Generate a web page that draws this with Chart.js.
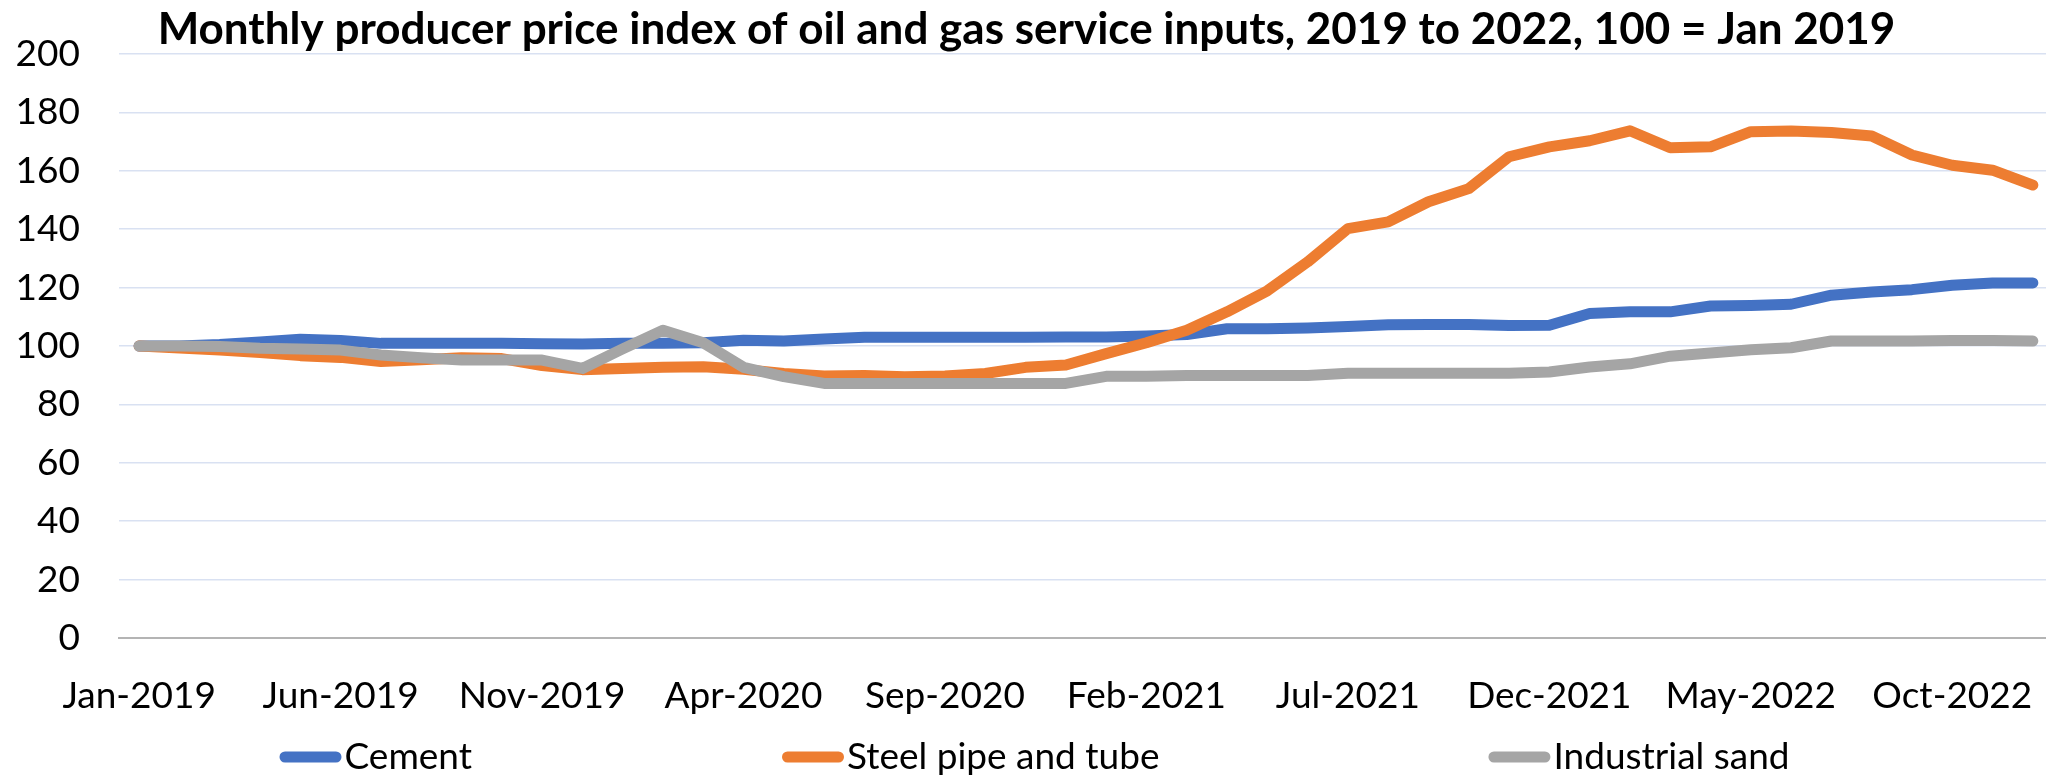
<!DOCTYPE html>
<html>
<head>
<meta charset="utf-8">
<title>Monthly producer price index of oil and gas service inputs</title>
<script src="https://cdn.jsdelivr.net/npm/chart.js@4/dist/chart.umd.min.js"></script>
<style>
  html, body { margin: 0; padding: 0; background: #ffffff; overflow: hidden; }
  #wrap { position: relative; width: 2060px; height: 776px; }
</style>
</head>
<body>
<div id="wrap"><canvas id="ppiChart"></canvas></div>
<script>
/**
 * Monthly producer price index of oil and gas service inputs, 2019 to 2022.
 * Values (100 = Jan 2019).
 */
const months = [
  'Jan-2019', 'Feb-2019', 'Mar-2019', 'Apr-2019', 'May-2019', 'Jun-2019',
  'Jul-2019', 'Aug-2019', 'Sep-2019', 'Oct-2019', 'Nov-2019', 'Dec-2019',
  'Jan-2020', 'Feb-2020', 'Mar-2020', 'Apr-2020', 'May-2020', 'Jun-2020',
  'Jul-2020', 'Aug-2020', 'Sep-2020', 'Oct-2020', 'Nov-2020', 'Dec-2020',
  'Jan-2021', 'Feb-2021', 'Mar-2021', 'Apr-2021', 'May-2021', 'Jun-2021',
  'Jul-2021', 'Aug-2021', 'Sep-2021', 'Oct-2021', 'Nov-2021', 'Dec-2021',
  'Jan-2022', 'Feb-2022', 'Mar-2022', 'Apr-2022', 'May-2022', 'Jun-2022',
  'Jul-2022', 'Aug-2022', 'Sep-2022', 'Oct-2022', 'Nov-2022', 'Dec-2022'
]

const cement = [
  100, 100, 100.5, 101.4, 102.3, 101.9, 100.9, 100.9, 100.9, 100.9, 100.8, 100.7,
  100.9, 100.9, 101.1, 102, 101.7, 102.4, 103, 103, 103, 103, 103, 103.1,
  103.1, 103.4, 103.9, 105.9, 105.9, 106.2, 106.7, 107.3, 107.4, 107.4, 107, 107.1,
  111.1, 111.7, 111.7, 113.7, 113.9, 114.3, 117.4, 118.5, 119.3, 120.8, 121.6, 121.6
]

const steelPipe = [
  100, 99.3, 98.6, 97.8, 96.7, 96.1, 94.7, 95.3, 96, 95.7, 93.3, 91.9,
  92.3, 92.7, 92.9, 92, 90.6, 89.7, 89.9, 89.5, 89.7, 90.6, 92.7, 93.5,
  97.4, 101.1, 105.4, 111.7, 118.9, 128.8, 140.2, 142.5, 149.4, 153.9, 164.8, 168.2,
  170.3, 173.7, 167.9, 168.2, 173.4, 173.6, 173.1, 171.9, 165.4, 161.9, 160.2, 155.1
]

const industrialSand = [
  100, 100, 99.8, 99.2, 99, 98.6, 96.9, 96, 95.2, 95.2, 95.2, 92.3,
  99, 105.4, 101.1, 92.7, 89.5, 87.2, 87.2, 87.2, 87.2, 87.2, 87.2, 87.2,
  89.6, 89.6, 89.9, 89.9, 89.9, 89.9, 90.7, 90.7, 90.7, 90.7, 90.7, 91.1,
  92.8, 93.9, 96.5, 97.6, 98.7, 99.4, 101.7, 101.7, 101.7, 101.9, 101.9, 101.7
]

const yTicks = [0, 20, 40, 60, 80, 100, 120, 140, 160, 180, 200]

const FONT = 'Lato, "Liberation Sans", sans-serif'

/**
 * Builds one line dataset in the Excel style of the reference.
 *
 * @param {string} label - Series name shown in the legend.
 * @param {Array<number>} data - Monthly index values.
 * @param {string} color - Line colour.
 * @param {number} order - Drawing order (lower is drawn on top).
 * @returns {object} - Chart.js dataset.
 */
const makeSeries = (label, data, color, order) => ({
  label,
  data,
  borderColor: color,
  backgroundColor: color,
  borderWidth: 11,
  borderCapStyle: 'round',
  borderJoinStyle: 'round',
  pointRadius: 0,
  pointHoverRadius: 0,
  tension: 0,
  order
})

// Excel-style legend: short round-capped line right before the text, wide gaps,
// one row under the axis labels. The built-in legend adds its padding to the
// height too, so it is drawn here instead.
const bottomLegend = {
  id: 'bottomLegend',
  afterDraw: (chart, args, opts) => {
    const { ctx } = chart
    const items = chart.data.datasets.map((ds) => ({ text: ds.label, color: ds.borderColor, width: ds.borderWidth }))
    ctx.save()
    ctx.font = `${opts.size}px ${FONT}`
    const widths = items.map((item) => opts.marker + opts.textGap + ctx.measureText(item.text).width)
    const total = widths.reduce((a, b) => a + b, 0) + opts.gaps.reduce((a, b) => a + b, 0)
    let x = (chart.width - total) / 2 + opts.shift
    const y = chart.height - opts.bottom
    items.forEach((item, i) => {
      ctx.strokeStyle = item.color
      ctx.lineWidth = item.width
      ctx.lineCap = 'round'
      ctx.beginPath()
      ctx.moveTo(x + item.width / 2, y)
      ctx.lineTo(x + opts.marker - item.width / 2, y)
      ctx.stroke()
      ctx.fillStyle = '#000000'
      ctx.textAlign = 'left'
      ctx.textBaseline = 'middle'
      ctx.fillText(item.text, x + opts.marker + opts.textGap, y)
      x += widths[i] + (opts.gaps[i] || 0)
    })
    ctx.restore()
  }
}

const createPpiChart = (canvasId) => {
  return new Chart(document.getElementById(canvasId), {
    type: 'line',
    data: {
      labels: months,
      datasets: [
        makeSeries('Cement', cement, '#4472c4', 3),
        makeSeries('Steel pipe and tube', steelPipe, '#ed7d31', 2),
        makeSeries('Industrial sand', industrialSand, '#a5a5a5', 1)
      ]
    },
    plugins: [bottomLegend],
    options: {
      responsive: true,
      maintainAspectRatio: false,
      animation: false,
      layout: { padding: { left: 0, right: 7, top: 0, bottom: 48 } },
      plugins: {
        title: {
          display: true,
          text: 'Monthly producer price index of oil and gas service inputs, 2019 to 2022, 100 = Jan 2019',
          color: '#000000',
          font: { family: FONT, size: 44, weight: 'bold', lineHeight: 1.1 },
          padding: { top: 5.3, bottom: 0.3 }
        },
        legend: { display: false },
        bottomLegend: { size: 37, marker: 62, textGap: 3, gaps: [310, 329], shift: 4.5, bottom: 19 },
        tooltip: { enabled: false }
      },
      scales: {
        x: {
          offset: true,
          grid: { display: false, drawTicks: false },
          border: { display: true, color: '#b4b4b4', width: 2 },
          ticks: {
            autoSkip: false,
            maxRotation: 0,
            minRotation: 0,
            padding: 36,
            color: '#000000',
            font: { family: FONT, size: 37 },
            callback: (value, index) => (index % 5 === 0 ? months[index] : '')
          },
          afterFit: (scale) => {
            scale.height = 90
            scale.paddingLeft = 0
            scale.paddingRight = 0
          }
        },
        y: {
          min: 0,
          max: 200,
          afterBuildTicks: (scale) => { scale.ticks = yTicks.map((v) => ({ value: v })) },
          grid: { color: '#d9e1f2', lineWidth: 1.5, drawTicks: false },
          border: { display: false },
          ticks: {
            autoSkip: false,
            padding: 39,
            color: '#000000',
            font: { family: FONT, size: 37 }
          },
          afterFit: (scale) => {
            scale.width = 119
            scale.paddingTop = 0
            scale.paddingBottom = 0
          }
        }
      }
    }
  })
}

createPpiChart('ppiChart')
</script>
</body>
</html>
